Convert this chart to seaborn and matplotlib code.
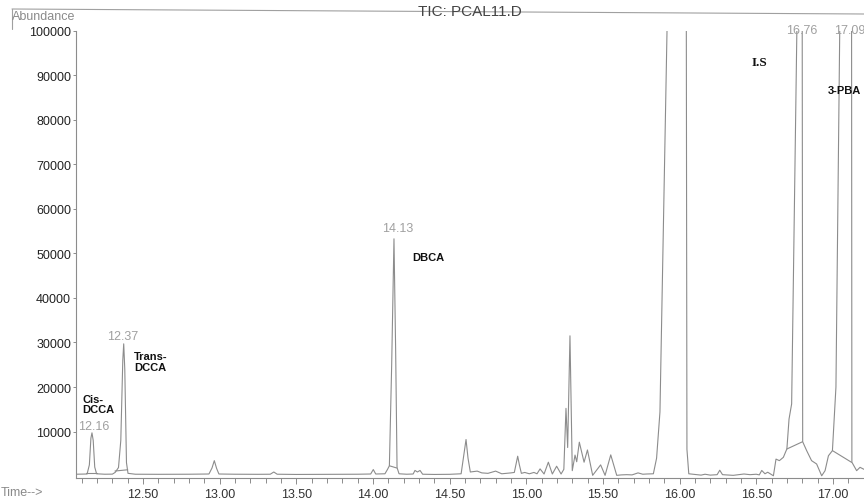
import numpy as np
import pandas as pd
import matplotlib
matplotlib.use("Agg")
import matplotlib.pyplot as plt
import seaborn as sns
from matplotlib.ticker import MultipleLocator, FormatStrFormatter
from matplotlib.lines import Line2D

### trace (time in min, abundance)
time_min = [
    12.063, 12.100, 12.135, 12.150, 12.160, 12.167, 12.175, 12.185, 12.197,
    12.250, 12.300, 12.318, 12.340, 12.355, 12.368, 12.374, 12.381, 12.392,
    12.402, 12.450, 12.600, 12.800, 12.930, 12.950, 12.965, 12.980, 12.995,
    13.100, 13.250, 13.330, 13.353, 13.375, 13.500, 13.700, 13.900, 13.985,
    14.002, 14.018, 14.078, 14.095, 14.107, 14.122, 14.137, 14.148, 14.157,
    14.170, 14.220, 14.262, 14.274, 14.290, 14.307, 14.324, 14.400, 14.500,
    14.575, 14.592, 14.607, 14.620, 14.635, 14.660, 14.680, 14.710, 14.750,
    14.800, 14.840, 14.900, 14.922, 14.935, 14.944, 14.955, 14.968, 14.990,
    15.020, 15.050, 15.070, 15.090, 15.116, 15.144, 15.170, 15.198, 15.227,
    15.245, 15.259, 15.270, 15.285, 15.300, 15.318, 15.329, 15.346, 15.377,
    15.399, 15.433, 15.485, 15.514, 15.551, 15.590, 15.620, 15.655, 15.690,
    15.729, 15.760, 15.785, 15.829, 15.850, 15.872, 15.918, 15.980, 16.044,
    16.048, 16.060, 16.085, 16.110, 16.140, 16.166, 16.200, 16.245, 16.262,
    16.280, 16.350, 16.420, 16.460, 16.500, 16.520, 16.536, 16.557, 16.575,
    16.612, 16.629, 16.651, 16.677, 16.700, 16.714, 16.731, 16.765, 16.782,
    16.800, 16.803, 16.829, 16.861, 16.894, 16.927, 16.949, 16.971, 16.997,
    17.020, 17.045, 17.085, 17.122, 17.124, 17.155, 17.177, 17.203,
]
abundance = [
    400, 420, 450, 2500, 8500, 9700, 8000, 2000, 500,
    400, 420, 800, 1900, 8000, 26000, 29700, 24000, 3000,
    600, 400, 380, 400, 450, 1800, 3450, 1700, 450,
    400, 380, 400, 900, 400, 350, 380, 400, 450,
    1450, 450, 500, 1500, 2300, 25000, 53300, 28000, 1900,
    500, 400, 450, 1250, 900, 1250, 400, 350, 380,
    500, 4500, 8200, 4000, 900, 1000, 1100, 700, 600,
    1100, 500, 700, 800, 3000, 4450, 2500, 600, 800,
    500, 800, 500, 1600, 450, 3100, 450, 2200, 450,
    1500, 15200, 6400, 31500, 1200, 4700, 3200, 7600, 3100,
    5850, 150, 2500, 150, 4750, 150, 250, 300, 250,
    700, 400, 450, 500, 4000, 14400, 100000, 300000, 100000,
    6000, 500, 400, 300, 200, 400, 200, 300, 1300,
    300, 150, 450, 300, 400, 250, 1250, 500, 850,
    50, 3800, 3450, 4200, 6100, 12800, 16200, 100000, 250000,
    100000, 7700, 5700, 3450, 2700, 50, 1200, 4550, 5700,
    20000, 100000, 250000, 100000, 3100, 1200, 1950, 1500,
]

# integration baselines (start/end of each drawn segment)
base_t0 = [12.128, 12.317, 14.107, 16.700, 16.998]
base_a0 = [670, 1120, 2300, 6070, 5690]
base_t1 = [12.198, 12.400, 14.155, 16.802, 17.122]
base_a1 = [670, 1400, 1800, 7700, 3070]

# retention time labels
rt_text = ["12.16", "12.37", "14.13", "16.76", "17.09"]
rt_x = [12.178, 12.368, 14.160, 16.800, 17.108]
rt_y = [10000, 30100, 54300, 98800, 98800]

# compound names
cmp_text = ["Cis-\nDCCA", "Trans-\nDCCA", "DBCA", "I.S", "3-PBA"]
cmp_x = [12.106, 12.443, 14.259, 16.470, 16.964]
cmp_y = [16200, 25800, 49200, 93000, 86800]

sns.set_style("ticks")
plt.rcParams['font.family'] = ['Liberation Sans', 'DejaVu Sans']

fig = plt.figure(figsize=(8.64, 5.02), dpi=100)
ax = fig.add_axes([0.088, 0.0458, 0.912, 0.8905])

trace_col = '#8c8c8c'
df = pd.DataFrame({'time': time_min, 'abundance': abundance})
sns.lineplot(data=df, x='time', y='abundance', ax=ax, color=trace_col,
             linewidth=0.8, estimator=None, sort=False)

for t0, a0, t1, a1 in zip(base_t0, base_a0, base_t1, base_a1):
    ax.plot([t0, t1], [a0, a1], color=trace_col, linewidth=0.8)

for s, x, y in zip(rt_text, rt_x, rt_y):
    ax.text(x, y, s, ha='center', va='bottom', fontsize=9, color='#a0a0a0')

for s, x, y in zip(cmp_text, cmp_x, cmp_y):
    if s == "I.S":
        ax.text(x, y, s, ha='left', va='center', fontsize=9.5,
                fontweight='bold', color='#111111', family='Liberation Serif')
    else:
        ax.text(x, y, s, ha='left', va='center', fontsize=8,
                fontweight='bold', color='#111111', linespacing=1.1)

ax.set_xlim(12.063, 17.203)
ax.set_ylim(-450, 100000)
ax.set_yticks(np.arange(10000, 100001, 10000))
ax.yaxis.set_major_formatter(FormatStrFormatter('%d'))
ax.xaxis.set_major_locator(MultipleLocator(0.5))
ax.xaxis.set_minor_locator(MultipleLocator(0.1))
ax.xaxis.set_major_formatter(FormatStrFormatter('%.2f'))
ax.set_xlabel("")
ax.set_ylabel("")

sns.despine(ax=ax, top=True, right=True)
for sp in ['left', 'bottom']:
    ax.spines[sp].set_color('#8c8c8c')
    ax.spines[sp].set_linewidth(0.8)
ax.tick_params(axis='y', length=2, width=0.7, pad=1.5, color='#8c8c8c',
               labelsize=9, labelcolor='#222222')
ax.tick_params(axis='x', which='major', length=4, width=0.7, pad=3,
               color='#8c8c8c', labelsize=9, labelcolor='#333333')
ax.tick_params(axis='x', which='minor', length=3.5, width=0.7, color='#8c8c8c')

fig.text(0.544, 0.976, "TIC: PCAL11.D", ha='center', va='center',
         fontsize=11, color='#444444')
fig.text(0.0135, 0.966, "Abundance", ha='left', va='center', fontsize=9,
         color='#8a8a8a')
fig.text(0.001, 0.018, "Time-->", ha='left', va='center', fontsize=9,
         color='#8a8a8a')

# frame line of the printout
fig.add_artist(Line2D([12 / 864, 1.0], [1 - 10 / 502, 1 - 15 / 502],
                      color='#a0a0a0', linewidth=0.8))
fig.add_artist(Line2D([12 / 864, 12 / 864], [1 - 10 / 502, 1 - 30 / 502],
                      color='#a0a0a0', linewidth=0.8))

fig.savefig("out.png", dpi=100)
